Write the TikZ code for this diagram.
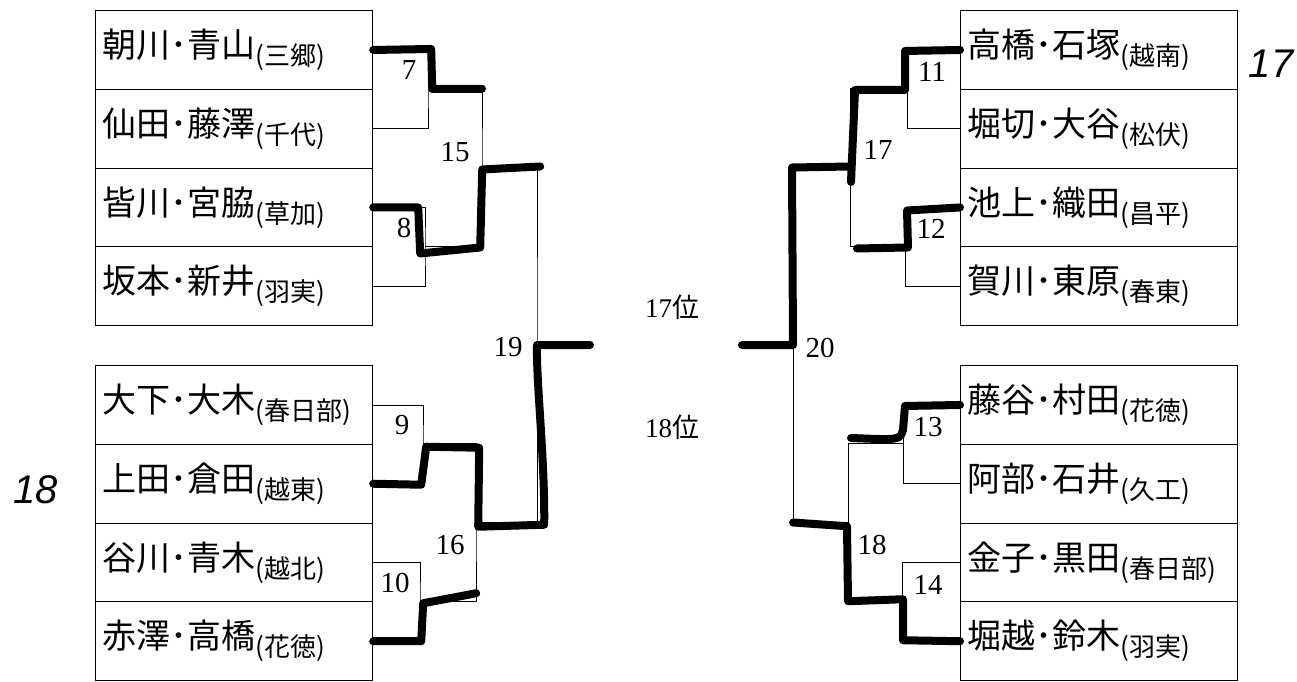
\documentclass[tikz,border=0pt]{standalone}
\usepackage{fontspec}
\newfontfamily\jp{Noto Sans CJK JP}
\newfontfamily\handf{Liberation Sans}
\newfontfamily\numf{Liberation Serif}
\begin{document}
\begin{tikzpicture}[x=1pt,y=-1pt,
  team/.style={draw, line width=1.2pt, anchor=north west, inner xsep=7pt, inner ysep=0pt,
    text width=263pt, minimum height=78.75pt, align=left, font=\jp\fontsize{34}{34}\selectfont},
  link/.style={line width=0.9pt},
  win/.style={line width=8pt, line cap=round, line join=round},
  num/.style={font=\numf\fontsize{29}{29}\selectfont, inner sep=0pt},
  rank/.style={font=\numf\fontsize{27}{27}\selectfont, inner sep=0pt},
  hw/.style={font=\handf\itshape\fontsize{40}{40}\selectfont, inner sep=0pt}]
\useasboundingbox (0,0) rectangle (1297,681);
\newcommand{\sch}[1]{\raisebox{-8pt}{\fontsize{26}{26}\selectfont(#1)}}
% left teams
\node[team] (L1) at (95,10) {朝川･青山\sch{三郷}};
\node[team] (L2) at (95,88.75) {仙田･藤澤\sch{千代}};
\node[team] (L3) at (95,167.5) {皆川･宮脇\sch{草加}};
\node[team] (L4) at (95,246.25) {坂本･新井\sch{羽実}};
\node[team] (L5) at (95,365) {大下･大木\sch{春日部}};
\node[team] (L6) at (95,443.75) {上田･倉田\sch{越東}};
\node[team] (L7) at (95,522.5) {谷川･青木\sch{越北}};
\node[team] (L8) at (95,601.25) {赤澤･高橋\sch{花徳}};
% right teams
\node[team] (R1) at (960,10) {高橋･石塚\sch{越南}};
\node[team] (R2) at (960,88.75) {堀切･大谷\sch{松伏}};
\node[team] (R3) at (960,167.5) {池上･織田\sch{昌平}};
\node[team] (R4) at (960,246.25) {賀川･東原\sch{春東}};
\node[team] (R5) at (960,365) {藤谷･村田\sch{花徳}};
\node[team] (R6) at (960,443.75) {阿部･石井\sch{久工}};
\node[team] (R7) at (960,522.5) {金子･黒田\sch{春日部}};
\node[team] (R8) at (960,601.25) {堀越･鈴木\sch{羽実}};
% match points
\coordinate (m7) at (428,88.75);
\coordinate (m8) at (425,246.25);
\coordinate (m15) at (482,167.5);
\coordinate (m9) at (423,443.75);
\coordinate (m10) at (420,601.25);
\coordinate (m16) at (476,522.5);
\coordinate (m19) at (537,345);
\coordinate (m11) at (907,88.75);
\coordinate (m12) at (905,246.25);
\coordinate (m17) at (850,167.5);
\coordinate (m13) at (903,443.75);
\coordinate (m14) at (902,601.25);
\coordinate (m18) at (848,522.5);
\coordinate (m20) at (793,345);
\coordinate (fl) at (590,345);
\coordinate (fr) at (742,345);
% thin bracket lines
\draw[link] (L1.east) -| (m7) |- (L2.east);
\draw[link] (L3.east) -| (m8) |- (L4.east);
\draw[link] (L5.east) -| (m9) |- (L6.east);
\draw[link] (L7.east) -| (m10) |- (L8.east);
\draw[link] (m7) -| (m15) |- (m8);
\draw[link] (m9) -| (m16) |- (m10);
\draw[link] (m15) -| (m19) |- (m16);
\draw[link] (R1.west) -| (m11) |- (R2.west);
\draw[link] (R3.west) -| (m12) |- (R4.west);
\draw[link] (R5.west) -| (m13) |- (R6.west);
\draw[link] (R7.west) -| (m14) |- (R8.west);
\draw[link] (m11) -| (m17) |- (m12);
\draw[link] (m13) -| (m18) |- (m14);
\draw[link] (m17) -| (m20) |- (m18);
% thick winner lines (left)
\draw[win] (L1.east) -- ++(58,-1) -- ++(1,40) -- (m7 -| m15);
\draw[win] (L3.east) -- ++(45,0) -- ++(2,46) -- ++(60,-6) -- ++(2,-78) -- ++(58,-3);
\draw[win] (L6.east) -- ++(48,1) -- ++(5,-38) -- ++(53,1) -- ++(-1,79) -- ++(66,-2)
  .. controls (545,460) and (536,380) .. (m19) -- (fl);
\draw[win] (L8.east) -- ++(48,0) -- ++(2,-38) -- ++(53,-10);
% thick winner lines (right)
\draw[win] (R1.west) -- ++(-55,1) -- ++(0,39) -- ++(-50,0) -- ++(-4,92);
\draw[win] (m17) ++(0,-1) -- ++(-58,1) -- (m20) -- (fr);
\draw[win] (R3.west) -- ++(-53,3) -- ++(1,37) -- ++(-51,1);
\draw[win] (R5.west) -- ++(-55,1) -- ++(-2,24) .. controls (900,440) .. ++(-52,8);
\draw[win] (R8.west) -- ++(-57,-1) -- ++(0,-41) -- ++(-55,2) -- ++(-1,-75) -- (m18 -| m20);
% match numbers
\node[num] (n7) at (409,70) {7};
\node[num] (n8) at (404,228) {8};
\node[num] (n15) at (455,152) {15};
\node[num] (n9) at (402,425) {9};
\node[num] (n10) at (395,583) {10};
\node[num] (n16) at (450,545) {16};
\node[num] (n19) at (508,347) {19};
\node[num] (n11) at (932,72) {11};
\node[num] (n12) at (931,229) {12};
\node[num] (n17) at (878,150) {17};
\node[num] (n13) at (928,427) {13};
\node[num] (n14) at (928,585) {14};
\node[num] (n18) at (872,545) {18};
\node[num] (n20) at (820,348) {20};
\node[rank] (r17) at (672,307) {17{\jp 位}};
\node[rank] (r18) at (672,427) {18{\jp 位}};
\node[hw] (h17) at (1271,64) {17};
\node[hw] (h18) at (36,490) {18};
\end{tikzpicture}
\end{document}
